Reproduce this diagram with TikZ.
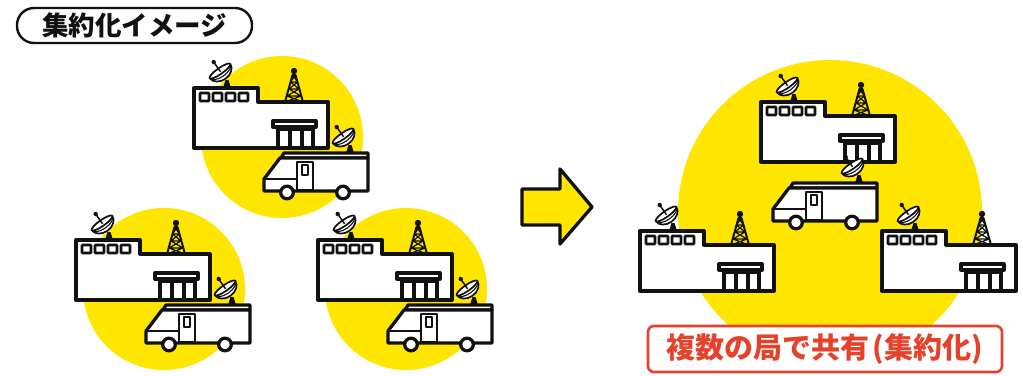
\documentclass[tikz,border=0pt]{standalone}
\usepackage{fontspec}
\setmainfont{Noto Sans CJK JP}
\definecolor{ink}{HTML}{111111}
\definecolor{gelb}{HTML}{FFE600}
\definecolor{rot}{HTML}{E5412B}
\tikzset{kontur/.style={ink,line width=3.3pt,line join=round},
  duenn/.style={ink,line width=2pt,line join=round},
  fenster/.style={ink,line width=2.8pt,fill=white,rounded corners=0.8pt}}
% Schüssel: #1/#2 = Fußpunkt auf dem Dach
\newcommand\schuessel[2]{%
  \fill[ink] (#1-4,#2) -- (#1+4,#2) -- (#1+1.5,#2-8) -- (#1-1.5,#2-8) -- cycle;
  \begin{scope}[shift={(#1-7,#2-17)},rotate=35]
    \draw[ink,line width=1.7pt,fill=white,line join=round]
      (-12.5,0) arc[start angle=180,end angle=0,x radius=12.5,y radius=9.5] -- cycle;
    \draw[ink,line width=1.1pt] (-12.5,0) arc[start angle=180,end angle=0,x radius=12.5,y radius=6];
    \draw[ink,line width=1.7pt,fill=white] (0,0) ellipse[x radius=12.5,y radius=3];
    \draw[ink,line width=1.5pt] (0,1) -- (0,-10);
    \fill[ink] (0,-11) circle[radius=2.2];
  \end{scope}}
% Sendemast: #1/#2 = Mitte am Fuß
\newcommand\mast[2]{%
  \draw[ink,line width=2pt,line join=round] (#1-9,#2) -- (#1-1.5,#2-27) -- (#1+1.5,#2-27) -- (#1+9,#2);
  \draw[ink,line width=1.2pt] (#1-7,#2-6) -- (#1+7,#2-6) (#1-5,#2-13) -- (#1+5,#2-13)
    (#1-3.5,#2-20) -- (#1+3.5,#2-20)
    (#1-9,#2) -- (#1+7,#2-6) (#1+9,#2) -- (#1-7,#2-6)
    (#1-7,#2-6) -- (#1+5,#2-13) (#1+7,#2-6) -- (#1-5,#2-13)
    (#1-5,#2-13) -- (#1+3.5,#2-20) (#1+5,#2-13) -- (#1-3.5,#2-20)
    (#1-3.5,#2-20) -- (#1+1.5,#2-27) (#1+3.5,#2-20) -- (#1-1.5,#2-27);
  \draw[ink,line width=1.4pt] (#1,#2-27) -- (#1,#2-30);
  \fill[ink] (#1,#2-31) circle[radius=3.2];}
% Sendegebäude: #1/#2 = linke obere Ecke
\newcommand\sender[2]{%
  \begin{scope}[shift={(#1,#2)}]
    \draw[kontur,fill=white] (0,0) -- (64,0) -- (64,14) -- (134,14) -- (134,60) -- (0,60) -- cycle;
    \foreach \i in {0,...,3} {\draw[fenster] (6+13*\i,5) rectangle ++(9,8);}
    \draw[kontur,fill=white] (79,33) rectangle (122,39);
    \draw[kontur] (82,41.5) -- (120,41.5);
    \foreach \x in {84,96,108,119} {\draw[kontur] (\x,41) -- (\x,60);}
    \mast{100}{14}
    \schuessel{33}{0}
  \end{scope}}
% Übertragungswagen: #1/#2 = vorne links bzw. Dachkante
\newcommand\wagen[2]{%
  \begin{scope}[shift={(#1,#2)}]
    \draw[kontur,fill=white] (20,0) -- (104,0) -- (104,5) -- (17,5) -- cycle;
    \draw[kontur,fill=white] (0,38) -- (0,26) -- (16,5) -- (104,5) -- (104,38) -- cycle;
    \draw[duenn] (0,26) -- (33,26);
    \draw[duenn,fill=white] (33,9) rectangle (49,37);
    \draw[duenn] (38,12) rectangle (44,22);
    \foreach \x in {23,79} {\draw[kontur,fill=white] (\x,39.5) circle[radius=6.3];}
    \schuessel{86}{0}
  \end{scope}}
% einzelnes Sendehaus mit Wagen auf gelbem Kreis
\newcommand\gruppe[2]{%
  \fill[gelb] (#1+88,#2+49) circle[radius=81];
  \sender{#1}{#2}
  \wagen{#1+70}{#2+65}}

\begin{document}
\begin{tikzpicture}[x=1pt,y=-1pt]
\useasboundingbox (0,0) rectangle (1023,375);
\fill[white] (0,0) rectangle (1023,375);
\tikzset{titel/.style={draw=ink,line width=2.4pt,rounded corners=17pt,minimum width=235pt,
    minimum height=35pt,inner sep=0,text=ink,font=\bfseries\fontsize{26.5}{26.5}\selectfont},
  schild/.style={draw=rot,fill=white,line width=2.6pt,rounded corners=6pt,minimum width=354pt,
    minimum height=46pt,inner sep=0,text=rot,font=\bfseries\fontsize{29}{29}\selectfont},
  pfeil/.style={kontur,fill=gelb,line width=3.3pt}}

% ---- Überschrift
\node[titel] (titel) at (134.5,25.5) {集約化イメージ};

% ---- vorher: drei Sender je mit eigenem Wagen
\gruppe{194}{88}
\gruppe{76}{240}
\gruppe{318}{240}

% ---- Pfeil
\draw[pfeil] (522,189) -- (560,189) -- (560,169) -- (592,207) -- (560,244) -- (560,225)
  -- (522,225) -- cycle;

% ---- nachher: ein Wagen für alle
\fill[gelb] (830,212) circle[radius=152];
\sender{761}{102}
\sender{640}{231}
\sender{882}{231}
\wagen{773}{183}
\node[schild] (schild) at (825,349) {複数の局で共有\hspace{3pt}(集約化)};
\end{tikzpicture}
\end{document}
